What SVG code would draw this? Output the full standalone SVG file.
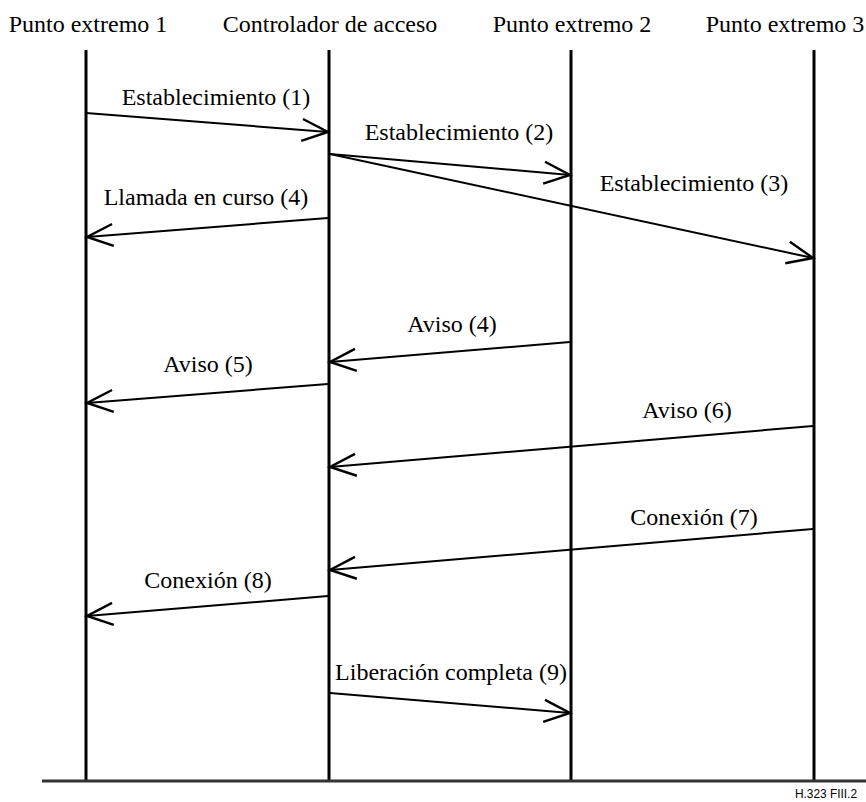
<svg xmlns="http://www.w3.org/2000/svg" width="866" height="802" viewBox="0 0 866 802">
<style>
.t{font-family:"Liberation Serif","Times New Roman",serif;font-size:24px;fill:#000}
.h{font-family:"Liberation Serif","Times New Roman",serif;font-size:24px;fill:#000}
.life{stroke:#000;stroke-width:3;fill:none}
.msg{stroke:#000;stroke-width:2;fill:none;marker-end:url(#ah)}
.tag{font-family:"Liberation Sans Narrow","Liberation Sans",Arial,sans-serif;font-size:13px;fill:#000}
</style>
<defs>
<marker id="ah" markerUnits="userSpaceOnUse" markerWidth="40" markerHeight="30" refX="30" refY="15" orient="auto">
<path d="M4,4 L30,15 L4,26" stroke="#000" stroke-width="2.4" fill="none"/>
</marker>
</defs>
<rect width="866" height="802" fill="#fff"/>
<g id="ep1"><text class="h" x="88" y="32" text-anchor="middle">Punto extremo 1</text><line class="life" x1="86" y1="50" x2="86" y2="780"/></g>
<g id="ac"><text class="h" x="330" y="32" text-anchor="middle">Controlador de acceso</text><line class="life" x1="329" y1="50" x2="329" y2="780"/></g>
<g id="ep2"><text class="h" x="572" y="32" text-anchor="middle">Punto extremo 2</text><line class="life" x1="571" y1="50" x2="571" y2="780"/></g>
<g id="ep3"><text class="h" x="785" y="32" text-anchor="middle">Punto extremo 3</text><line class="life" x1="814" y1="50" x2="814" y2="780"/></g>
<line x1="42" y1="781" x2="866" y2="781" stroke="#333" stroke-width="3"/>
<text class="tag" x="795" y="798" textLength="62" lengthAdjust="spacingAndGlyphs">H.323  FIII.2</text>
<g id="connectors">
<line class="msg" x1="86" y1="113" x2="328" y2="132"/>
<line class="msg" x1="330" y1="154" x2="570" y2="175"/>
<line class="msg" x1="330" y1="154" x2="813" y2="258"/>
<line class="msg" x1="328" y1="218" x2="87" y2="237"/>
<line class="msg" x1="570" y1="342" x2="330" y2="362"/>
<line class="msg" x1="328" y1="384" x2="87" y2="403"/>
<line class="msg" x1="813" y1="426" x2="330" y2="467"/>
<line class="msg" x1="813" y1="529" x2="330" y2="570"/>
<line class="msg" x1="328" y1="596" x2="87" y2="616"/>
<line class="msg" x1="330" y1="693" x2="570" y2="713"/>
</g>
<g id="labels">
<text class="t" x="216" y="105" text-anchor="middle">Establecimiento (1)</text>
<text class="t" x="459" y="140" text-anchor="middle">Establecimiento (2)</text>
<text class="t" x="694" y="191" text-anchor="middle">Establecimiento (3)</text>
<text class="t" x="206" y="205" text-anchor="middle">Llamada en curso (4)</text>
<text class="t" x="452" y="332" text-anchor="middle">Aviso (4)</text>
<text class="t" x="208" y="372" text-anchor="middle">Aviso (5)</text>
<text class="t" x="687" y="418" text-anchor="middle">Aviso (6)</text>
<text class="t" x="694" y="525" text-anchor="middle">Conexión (7)</text>
<text class="t" x="208" y="588" text-anchor="middle">Conexión (8)</text>
<text class="t" x="451" y="680" text-anchor="middle">Liberación completa (9)</text>
</g>
</svg>
